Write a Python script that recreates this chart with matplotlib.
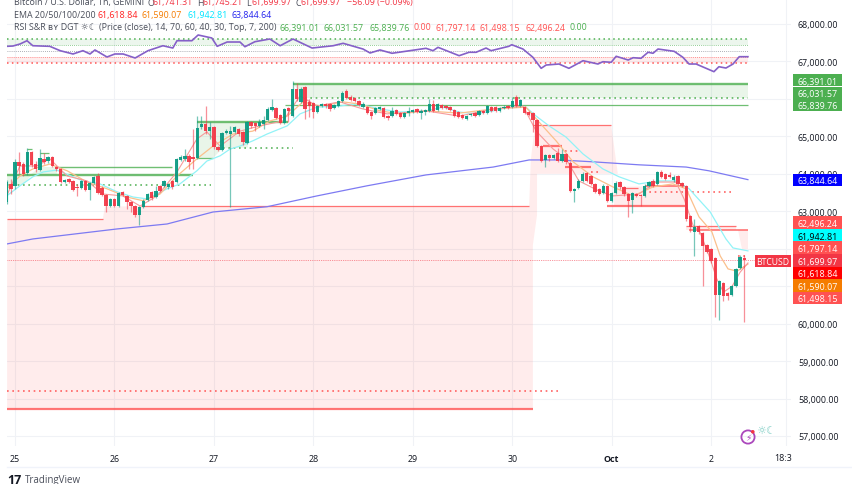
import numpy as np
import matplotlib
matplotlib.use("Agg")
import matplotlib.pyplot as plt
from matplotlib.patches import Circle, Rectangle

FONT = ["Open Sans", "DejaVu Sans"]
plt.rcParams["font.family"] = FONT

# ---------- data ----------
hours = np.arange(-2, 177)
opens = [63250,63730,63680,64320,64260,64020,64580,64260,64100,64400,
64340,64450,64180,64130,63780,63860,63810,63650,63620,63810,
63570,63760,63940,63620,63440,63140,63330,63140,63520,63410,
63250,63140,62900,63120,63300,63520,63380,63680,63680,63650,
63810,63780,64370,64400,64480,64450,64420,65250,65330,65140,
65250,64720,64640,65090,65060,65120,65200,65120,64820,65380,
65360,65280,65330,65440,65700,65760,65570,65360,65760,65540,
66260,65920,66320,65920,65890,65650,65810,65860,65860,65760,
65810,65940,66210,66050,66020,65940,65780,65780,65650,65620,
65730,65760,65540,65540,65700,65620,65520,65620,65650,65730,
65620,65650,65680,65860,65700,65840,65810,65780,65700,65650,
65570,65460,65570,65620,65570,65680,65620,65780,65780,65680,
65760,65810,65780,66050,65810,65780,65650,65620,65440,64740,
64370,64500,64420,64560,64340,64530,64290,63540,63620,63810,
64020,63940,63730,63600,63490,63680,63280,63490,63780,63650,
63460,63300,63460,63440,63410,63680,63810,63730,64050,64000,
63970,63840,63940,63760,63680,62870,62450,62610,62420,62100,
61990,61750,60760,61080,60820,60760,61000,61490,61741]
closes = [63780,63600,64320,64210,64000,64580,64240,64130,64420,64320,
64450,64210,64130,63780,63840,63780,63570,63620,63810,63570,
63760,63920,63490,63440,63140,63330,63140,63490,63440,63250,
63140,62900,63120,63280,63460,63360,63540,63540,63810,63730,
63650,64400,64450,64480,64320,64400,65220,65330,65140,65250,
64720,64640,65090,65140,65140,65250,65060,64850,65380,65280,
65280,65380,65440,65730,65780,65490,65360,65730,65680,66260,
66000,66260,65730,65810,65650,65810,65860,65810,65730,65840,
65940,66160,66020,65970,65940,65840,65860,65620,65540,65760,
65780,65520,65490,65680,65600,65520,65620,65680,65700,65650,
65680,65700,65860,65680,65860,65760,65760,65700,65540,65520,
65490,65540,65600,65540,65680,65620,65810,65680,65680,65760,
65780,65760,65940,65810,65970,65620,65570,65440,64740,64340,
64500,64420,64500,64340,64530,64320,63540,63600,63810,64000,
63810,63730,63520,63460,63680,63280,63490,63760,63650,63460,
63280,63490,63410,63410,63680,63780,63680,64050,63920,63860,
63920,63920,63730,63680,62790,62580,62580,62450,62070,61910,
61670,60760,61140,60740,60740,61000,61460,61780,61700]
highs = [63840,63860,64400,64580,64320,64690,64610,64340,64660,64560,
64480,64480,64210,64160,63860,63890,63840,63730,63840,63840,
63780,63940,64020,63680,63460,63360,63360,63520,63540,63440,
63280,63170,63140,63330,63490,63540,63680,63700,63840,63760,
63840,64420,64500,64660,64530,65200,65540,65540,65810,65380,
65280,64740,65120,65200,65280,65280,65220,65140,65410,65410,
65380,65460,65540,65780,66000,65780,65600,65760,65780,66480,
66420,66320,66340,66000,65920,65840,65890,65890,65890,65860,
65970,66210,66260,66100,66050,65970,65920,65810,65680,65780,
65810,65780,65570,65780,65730,65650,65650,65780,65730,65760,
65730,65730,66000,65970,65890,65860,65840,65810,65730,65680,
65600,65570,65620,65650,65700,65700,65840,65810,65810,65780,
65840,65840,66050,66100,66000,65810,65680,65650,65460,64770,
64530,64530,64530,64690,64660,64560,64340,63620,63860,64050,
64050,63970,63760,63620,63730,63700,63520,63810,63810,63680,
63490,63520,63490,63460,63730,63810,63860,64080,64100,64020,
64050,63970,63970,63780,63700,62900,62790,62630,62450,62130,
62020,61780,61160,61110,60840,61030,61490,61830,61830]
lows = [63200,63460,63600,64000,63940,63970,64180,64050,64080,64260,
64290,64180,64080,63760,63760,63760,63540,63410,63600,63540,
63300,63730,63460,63410,62980,63120,63120,63120,63410,63060,
62980,62850,62630,63090,63280,63300,63360,63520,63650,63600,
63600,63760,64340,64340,64130,64130,64400,65200,65060,64930,
64660,64610,64610,65060,63120,65090,65010,64770,64800,65220,
65140,65250,65200,65410,65680,65460,65330,65330,65380,65520,
65940,65890,65460,65520,65490,65620,65780,65760,65680,65730,
65780,65920,66000,65940,65920,65810,65760,65600,65460,65600,
65700,65490,65440,65520,65570,65490,65490,65540,65620,65620,
65460,65570,65650,65650,65680,65730,65730,65680,65520,65490,
65460,65440,65540,65520,65540,65600,65600,65650,65650,65650,
65730,65730,65760,65780,65780,65600,65540,65120,64720,64320,
64180,64340,64400,64320,64320,64260,63520,63250,63600,63780,
63780,63700,63490,63440,63460,63250,63250,63460,63600,63410,
62850,62960,63380,63140,63380,63650,63650,63700,63890,63840,
63890,63780,63700,63650,62740,62450,61810,62390,61000,61890,
61620,60180,60100,60600,60630,60740,60980,61460,60050]

ema100_x = [-2,1.2,4.3,6.8,10.1,14,16.4,20.5,24.6,28.5,31.9,36.7,39.8,43.9,46.3,49.5,51.9,54.3,57.4,60.8,65.7,68.8,72.9,78.4,81.6,85,88.1,92.9,99.2,103.3,107.2,111.3,115.4,119.2,123.3,125.8,128.9,133,137.1,141.9,145.8,150.6,155.4,159.5,162.7,167.8,171.6,173.3,176.9]
ema100_y = [63410,63680,63920,64050,64100,63920,63810,63730,63520,63380,63330,63600,63730,64080,64340,64480,64660,64740,64880,65060,65280,65600,65780,65810,65860,65810,65730,65650,65680,65780,65650,65600,65680,65780,65780,65540,65280,64980,64530,64130,63920,63730,63810,63810,63600,62980,62260,62020,61942]
ema50_x = [-2,1.2,4.3,8.4,12.6,17.4,22.2,27,30.9,35,39.1,43.9,47.8,52.6,57.4,61.5,65.7,69.5,73.6,79.2,83.3,88.1,92.9,99.2,107.2,115.4,123.3,126.5,130.6,134.7,139.5,144.3,149.2,154,158.8,162,165.1,168.2,170.2,172.1,174.3,176.9]
ema50_y = [63600,63940,64130,64260,64080,63780,63600,63380,63280,63460,63940,64400,64740,65060,65140,65410,65540,65920,65810,65920,65860,65680,65600,65680,65620,65730,65780,65380,64880,64320,63920,63650,63410,63650,63730,63600,62850,62450,61810,61460,61400,61590]
ema20_x = [-2,1.2,5.3,8.4,12.6,17.4,21.2,26,30.2,34.3,39.1,43.9,46.3,49.5,54.3,59.1,64.7,68.8,72.9,78.4,84,89.8,99.2,107.2,115.4,122.6,125.8,129.9,133,136.1,141,144.3,150.6,154.7,159.5,161.5,163.7,165.3,167.8,169.4,171,173.1,175,176.9]
ema20_y = [63410,64210,64210,64400,63940,63810,63460,63410,63140,63410,64050,64930,65120,64740,65140,65280,65410,66080,65810,65920,65730,65600,65680,65540,65730,65810,65140,64660,64400,63810,63540,63410,63460,63780,63780,63330,62610,62450,61730,61190,60840,61000,61370,61619]
ema200_x = [-2,4.3,24.6,36.7,47.8,60.8,72.9,85,99.2,115.4,124.1,131.3,139.5,150.6,162,167.5,176.9]
ema200_y = [62126,62260,62527,62660,62980,63120,63410,63680,63970,64180,64370,64370,64320,64240,64180,64080,63844]

rsi_x = [-1.9,-0.5,1.2,2.9,4.3,8.4,10.9,14,16.4,18.1,19.3,22.2,24.1,26.1,29,32.1,35.7,38.1,39.1,42.7,44.2,47.5,48.8,51.2,54.3,55.5,57.9,61.5,64,65.7,67.1,71.7,76.8,79.2,84,85.7,88.1,91,95.3,99.2,100.9,102.1,107.2,109.6,111.3,113.7,114.9,119.2,119.9,122.6,125,127,128.2,131.3,133.7,137.1,140.7,141.9,143.9,145.1,148,149.2,151.1,152.8,154,155.2,159.1,161.2,162.7,164.4,168.7,169.9,171.6,173.3,174.8,176.9]
rsi_y = [57.6,58.1,61.5,67.1,58.6,57.6,50.2,44.6,50.2,44.6,51.4,39.5,44.6,44.6,37.8,50.2,58.6,54.7,67.1,67.1,76.8,71.7,57.6,64.9,64.9,56.9,65.4,70,58.6,64.9,70,54.7,58.6,62.7,53,46.3,51.4,45.8,50.2,54.2,50.2,55.9,41.7,47.5,47.5,54.7,50.2,57.6,60.3,53,39,20.3,25.9,27.6,20.3,33.2,27.6,31.5,30.5,40.7,34.4,38.3,37.3,47.5,45.8,53,49.1,39,27.6,27.6,14.6,23,20.8,27.6,40,40]

price_ticks = [57000,58000,59000,60000,61000,62000,63000,64000,65000,66000,67000,68000]
price_labels = ["57,000.00","58,000.00","59,000.00","60,000.00","","","63,000.00","64,000.00","65,000.00","","67,000.00","68,000.00"]
day_ticks = [0,24,48,72,96,120,144,168]
day_labels = ["25","26","27","28","29","30","Oct","2"]

tag_texts = ["66,391.01","66,031.57","65,839.76","63,844.64","62,496.24","61,942.81","61,797.14","61,699.97","61,618.84","61,590.07","61,498.15"]

# ---------- style ----------
RED = "#ff5252"
GREEN = "#4caf50"
TXT = "#131722"
FS = 6.4

W, H = 852, 485
fig = plt.figure(figsize=(W/100, H/100), dpi=100)
AX_L, AX_R, AX_B = 7, 791, 447
ax = fig.add_axes([AX_L/W, 1-AX_B/H, (AX_R-AX_L)/W, AX_B/H])
ax.set_xlim(-1.931, 187.3)
ax.set_ylim(68000-422/0.03745, 68000+25/0.03745)
for s in ax.spines.values():
    s.set_visible(False)
ax.set_axisbelow(True)
ax.grid(True, color="#f0f2f6", lw=0.8)
ax.set_yticks(price_ticks)
ax.set_yticklabels(price_labels, fontsize=FS, color=TXT)
ax.yaxis.tick_right()
ax.tick_params(axis="y", length=0, pad=5)
ax.set_xticks(day_ticks+[186.1])
ax.set_xticklabels(day_labels+[""], fontsize=FS, color=TXT)
ax.tick_params(axis="x", length=0, pad=6)
ax.get_xticklabels()[6].set_fontweight("bold")

# ---------- zones ----------
pink = dict(color=RED, alpha=0.11, lw=0, zorder=1)
mint = dict(color=GREEN, alpha=0.12, lw=0, zorder=1)
ax.fill([-1.9,21.2,21.7,124.1,125,125,-1.9],[62790,62790,63130,63130,62100,57720,57720],**pink)
ax.fill([124.5,125.5,143.9,145.5,126,126,125,124.1],[64370,65300,65300,64000,64000,62900,62100,63130],**pink)
ax.fill([144.6,161.7,161.7,144.6],[63650,63680,63150,63150],**pink)
ax.fill([162,174,174,162],[62615,62615,62496,62496],**pink)
ax.fill([174.5,176.9,176.9,175.5],[62496,62496,61980,61980],**pink)
ax.fill([-1.9,4,2,-1.9],[63975,63975,63700,63700],**mint)
ax.fill([6,10.1,10.1,3.5],[64170,64170,63975,63975],**mint)
ax.fill([43.9,56.2,56.2,50.2,47.8,43.9],[65380,65380,64700,64690,64420,64420],**mint)
ax.fill([67.1,176.9,176.9,70],[66391,66391,66031,66031],**mint)

# ---------- levels ----------
solid_levels = [
    (66391,67.1,176.9,GREEN,1.7),(65840,65.2,176.9,GREEN,0.9),
    (64170,10.1,37.9,GREEN,1.0),(63975,-1.9,43,GREEN,1.7),
    (65380,43.9,65.9,GREEN,1.7),(64420,43.9,47.8,GREEN,0.9),
    (64555,6,8.2,GREEN,0.9),(64650,2.9,4.1,GREEN,0.9),
    (62790,-1.9,21.2,RED,0.9),(63130,30.5,124.1,RED,0.9),(57720,-1.9,125,RED,1.6),
    (65300,125,143.9,RED,0.9),(64750,127.4,132,RED,1.6),(64170,132.8,139,RED,1.6),
    (63620,146.5,150.4,RED,0.9),(63680,152,161.7,RED,1.2),(63150,142.9,161.7,RED,1.6),
    (62615,162,174,RED,0.9),(62496,162.7,176.9,RED,1.2),
]
for p, x0, x1, c, lw in solid_levels:
    ax.hlines(p, x0, x1, color=c, lw=lw, alpha=0.8, zorder=2)
dotted_levels = [
    (66031,70,176.9,GREEN),(63700,-1.9,47.3,GREEN),(64690,50.2,67.1,GREEN),
    (58200,-1.9,131,RED),(64620,132.8,136.4,RED),(64060,139,141.2,RED),
    (63520,151.8,173.3,RED),(61797,174.5,176.9,RED),(61498,174.5,176.9,RED),
]
for p, x0, x1, c in dotted_levels:
    ax.hlines(p, x0, x1, color=c, lw=1.2, alpha=0.9, linestyles=(0,(1,2.2)), zorder=2)
ax.hlines(61699.97, -1.9, 179, color="#f23645", lw=0.6, alpha=0.7, linestyles=(0,(1,1.2)), zorder=2)

# ---------- EMAs ----------
ax.plot(ema200_x, ema200_y, color="#7d7af2", lw=0.9, zorder=3)
ax.plot(ema100_x, ema100_y, color="#92f3f7", lw=0.9, zorder=3)
ax.plot(ema50_x, ema50_y, color="#fbc08c", lw=0.9, zorder=3)
ax.plot(ema20_x, ema20_y, color="#f79a9a", lw=0.8, zorder=3)

# ---------- candles ----------
o = np.array(opens); c = np.array(closes); hi = np.array(highs); lo = np.array(lows)
up = c >= o
cols = np.where(up, "#089981", "#f23645")
ax.vlines(hours, lo, hi, colors=cols, lw=0.9, alpha=0.55, zorder=4)
ax.bar(hours, np.abs(c-o), bottom=np.minimum(o, c), width=0.8, color=cols, alpha=0.92, lw=0, zorder=5)

# ---------- RSI pane overlay ----------
tw = fig.add_axes(ax.get_position(), sharex=ax, zorder=2)
tw.set_ylim(70-(AX_B-40)*1.695, 70+40*1.695)
tw.set_yticks([]); tw.patch.set_visible(False)
tw.xaxis.set_visible(False)
for s in tw.spines.values():
    s.set_visible(False)
tw.fill_between([-1.9,176.9],60,70,color=GREEN,alpha=0.1,lw=0)
tw.fill_between([-1.9,176.9],30,40,color=RED,alpha=0.1,lw=0)
tw.hlines(70,-1.9,176.9,color=GREEN,lw=1.1,linestyles=(0,(1,2.2)))
tw.hlines(60,-1.9,176.9,color=GREEN,lw=0.6,alpha=.8,linestyles=(0,(1,1.5)))
tw.hlines(50,-1.9,176.9,color="#787b86",lw=0.6,alpha=.8,linestyles=(0,(1,1.5)))
tw.hlines(40,-1.9,176.9,color=RED,lw=0.6,alpha=.8,linestyles=(0,(1,1.5)))
tw.hlines(30,-1.9,176.9,color=RED,lw=1.1,linestyles=(0,(1,2.2)))
tw.plot(rsi_x, rsi_y, color="#8560c8", lw=1.2)

# ---------- chrome in pixel space ----------
ov = fig.add_axes([0,0,1,1], zorder=10)
ov.set_xlim(0,W); ov.set_ylim(H,0); ov.axis("off")

tag_y = [81,94,106,181,223.5,236.3,248.7,261.3,274,286.3,299]
tag_bg = [GREEN,GREEN,GREEN,"#0000ff",RED,"#00ffff",RED,"#f23645","#ff0000","#f57c00",RED]
tag_fg = ["white","white","white","white","white","black","white","white","white","white","white"]
for t, y, bg, fg in zip(tag_texts, tag_y, tag_bg, tag_fg):
    ov.add_patch(Rectangle((793,y-6.3),48.5,12.6,color=bg,lw=0))
    ov.text(798,y,t,fontsize=FS,color=fg,va="center_baseline",ha="left")
ov.add_patch(Rectangle((755,255.5),36,12,color="#f23645",lw=0))
ov.text(773,261.5,"BTCUSD",fontsize=6.2,color="white",ha="center",va="center_baseline")

ov.text(783,457.7,"18:3",fontsize=FS,color=TXT,ha="center",va="center_baseline")
ov.plot([7,852],[467.7,467.7],color="#f0f3fa",lw=1)

def seg(x,y,s,c=TXT,**k):
    ov.text(x,y,s,fontsize=FS,color=c,va="center_baseline",ha="left",**k)

y1, y2, y3 = 2, 14.3, 27
LBL = "#4a4e5a"
seg(13.7,y1,"Bitcoin / U.S. Dollar, 1h, GEMINI",LBL)
for x,l,v in [(147,"O","61,741.31"),(197,"H","61,745.21"),(246,"L","61,699.97"),(295,"C","61,699.97")]:
    seg(x,y1,l,LBL); seg(x+5.5,y1,v,"#f23645")
seg(347,y1,"−56.09 (−0.09%)","#f23645")
seg(13.7,y2,"EMA 20/50/100/200",LBL)
for x,v,cc in [(98,"61,618.84","#ff2020"),(142,"61,590.07","#f57c00"),(187,"61,942.81","#00e5ff"),(231,"63,844.64","#2222ee")]:
    seg(x,y2,v,cc)
seg(13.7,y3,"RSI S&R ʙʏ DGT ☼☾ (Price (close), 14, 70, 60, 40, 30, Top, 7, 200)",LBL)
for x,v,cc in [(280,"66,391.01",GREEN),(324,"66,031.57",GREEN),(369,"65,839.76",GREEN),(413,"0.00",RED),
               (436,"61,797.14",RED),(480,"61,498.15",RED),(525,"62,496.24",RED),(569,"0.00",GREEN)]:
    seg(x,y3,v,cc)

ov.add_patch(Circle((748,438),6.6,fill=False,ec="#ab47bc",lw=1.3))
ov.text(748,438,"⚡",fontsize=6.5,color="#ab47bc",ha="center",va="center",family="DejaVu Sans")
ov.add_patch(Circle((752.8,432.8),1.8,color="#f23645",lw=0))
ov.text(766.5,431,"☼☾",fontsize=8,color="#7fcdc4",ha="center",va="center",family="DejaVu Sans")

ov.text(7,479.2,"17",fontsize=9,fontweight="bold",color="#131722",ha="left",va="center_baseline")
ov.text(25,479.2,"TradingView",fontsize=7,color="#4a4e5a",ha="left",va="center_baseline")

fig.savefig("out.png", dpi=100)
